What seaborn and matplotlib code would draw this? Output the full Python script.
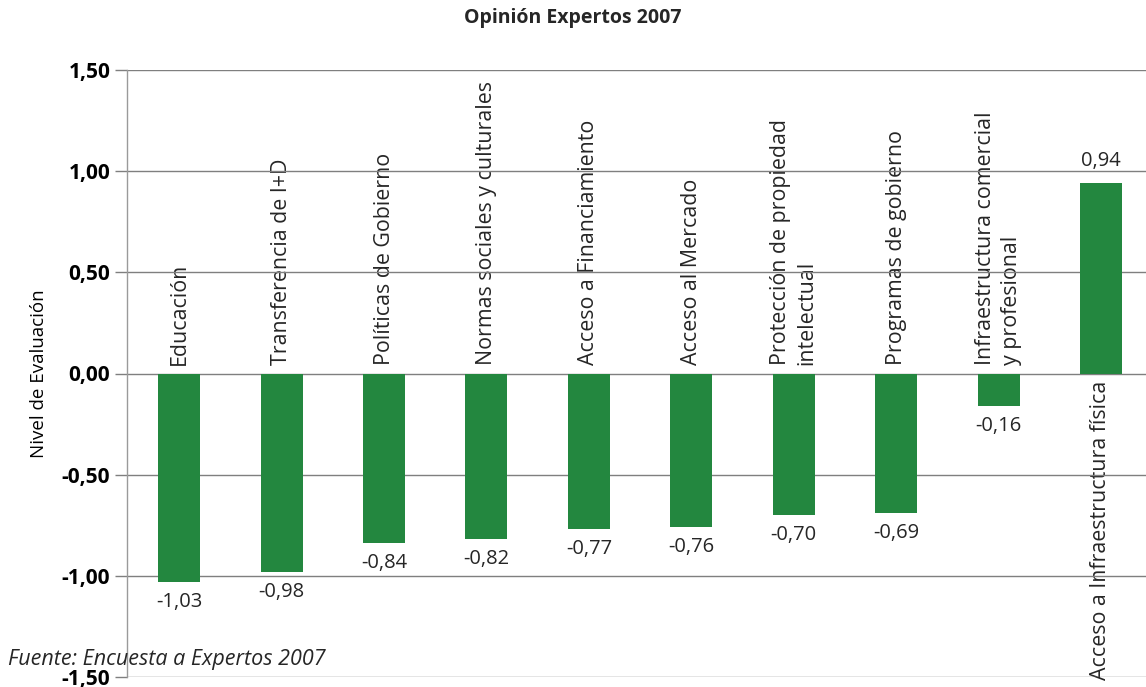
import matplotlib
matplotlib.use("Agg")
import matplotlib.pyplot as plt
import seaborn as sns
import pandas as pd

categories = ["Educación", "Transferencia de I+D", "Políticas de Gobierno",
              "Normas sociales y culturales", "Acceso a Financiamiento",
              "Acceso al Mercado", "Protección de propiedad\nintelectual",
              "Programas de gobierno", "Infraestructura comercial\ny profesional",
              "Acceso a Infraestructura física"]
values = [-1.03, -0.98, -0.84, -0.82, -0.77, -0.76, -0.70, -0.69, -0.16, 0.94]
yticks = [-1.5, -1.0, -0.5, 0.0, 0.5, 1.0, 1.5]
title = "Opinión Expertos 2007"
ylabel = "Nivel de Evaluación"
source = "Fuente: Encuesta a Expertos 2007"

sns.set_theme(style="white")
plt.rcParams['font.family'] = ['Open Sans', 'DejaVu Sans']

df = pd.DataFrame({"cat": categories, "val": values})

fig = plt.figure(figsize=(11.46, 6.87), dpi=100)
ax = fig.add_axes([127/1146, 1-677/687, 1-127/1146, (677-70)/687])

green = "#23873F"
sns.barplot(data=df, x="cat", y="val", color=green, width=0.41,
            saturation=1, linewidth=0, ax=ax, zorder=3)

ax.set_xlim(-0.51, 9.44)
ax.set_ylim(-1.5, 1.5)
ax.set_yticks(yticks)
ax.set_yticklabels([f"{t:.2f}".replace(".", ",") for t in yticks],
                   fontweight="bold", fontsize=15, color="black")
ax.set_xticks([])
ax.set_xlabel("")
ax.set_ylabel(ylabel, fontsize=13.5, color="black")
ax.yaxis.set_label_coords(-0.078, 0.5)

for y in yticks:
    ax.axhline(y, color="#7f7f7f", lw=1.0, zorder=2.5, xmin=0, xmax=1)

for s in ["top", "right", "bottom"]:
    ax.spines[s].set_visible(False)
ax.spines["left"].set_color("#9a9a9a")
ax.spines["left"].set_linewidth(1.0)
ax.spines["left"].set_zorder(4)
ax.tick_params(axis="y", which="both", left=True, length=9, width=1,
               color="#7f7f7f", pad=3)

for i, (c, v) in enumerate(zip(categories, values)):
    lab = f"{v:.2f}".replace(".", ",")
    if v < 0:
        ax.annotate(lab, (i, v), xytext=(0, -7), textcoords="offset points",
                    ha="center", va="top", fontsize=14.5, zorder=5)
        ax.annotate(c, (i, 0), xytext=(0, 6), textcoords="offset points",
                    ha="center", va="bottom", rotation=90, fontsize=15.4,
                    zorder=2, linespacing=1.3, multialignment="left")
    else:
        ax.annotate(lab, (i, v), xytext=(0, 9), textcoords="offset points",
                    ha="center", va="bottom", fontsize=14.5, zorder=5)
        ax.annotate(c, (i, 0), xytext=(0, -5), textcoords="offset points",
                    ha="center", va="top", rotation=90, fontsize=15.4,
                    zorder=2, linespacing=1.3, multialignment="left")

fig.text(573/1146, 1-18/687, title, ha="center", va="center",
         fontweight="bold", fontsize=14)
fig.text(8/1146, 1-660/687, source, ha="left", va="center",
         fontstyle="italic", fontsize=15.5)

fig.savefig("out.png", dpi=100)
